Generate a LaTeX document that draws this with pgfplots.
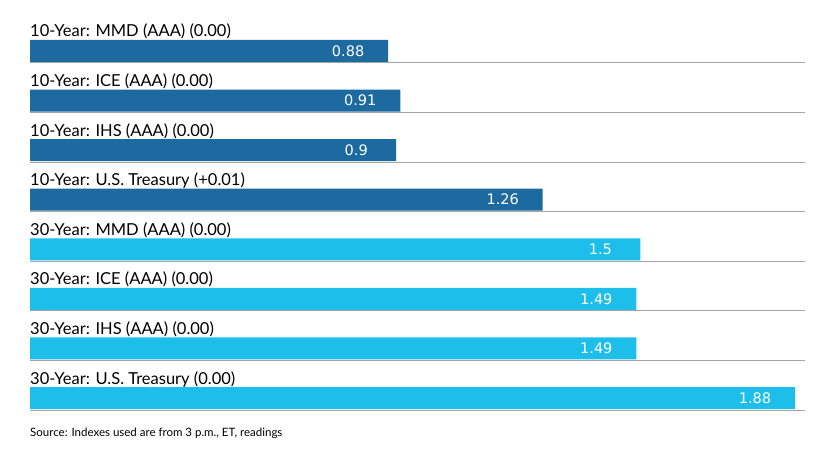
\documentclass[border=0pt]{standalone}
\usepackage{fontspec}
\setmainfont{Lato}
\newfontfamily\valfont{DejaVu Sans}
\usepackage{pgfplots}
\pgfplotsset{compat=1.18}
\definecolor{darkbar}{RGB}{28,106,160}
\definecolor{lightbar}{RGB}{30,190,234}
\definecolor{sepgray}{RGB}{165,165,165}

\tikzset{
    sep/.style={sepgray, line width=1pt},
    rowlab/.style={anchor=base west, inner sep=0pt, font=\fontsize{16.5}{19}\selectfont},
}

\begin{document}
\begin{tikzpicture}
\path[use as bounding box] (-30pt,-31.2pt) rectangle (810pt,422.8pt);
\begin{axis}[
    scale only axis,
    width=765pt, height=396.6pt,
    xmin=0, xmax=1.88,
    ymin=-0.5, ymax=7.5,
    y dir=reverse,
    axis lines=none,
    clip=false,
    xbar, bar width=22pt, bar shift=0pt,
    nodes near coords,
    nodes near coords style={anchor=center, xshift=-40pt, text=white,
        font=\valfont\fontsize{14.5}{16}\selectfont,
        /pgf/number format/assume math mode=true},
]
\addplot[draw=none, fill=darkbar] coordinates {
    (0.88,0) (0.91,1) (0.9,2) (1.26,3)
};
\addplot[draw=none, fill=lightbar] coordinates {
    (1.5,4) (1.49,5) (1.49,6) (1.88,7)
};

% separators under each bar
\pgfplotsinvokeforeach{0,...,7}{
    \draw[sep] ([yshift=-12pt]axis cs:0,#1) -- ([yshift=-12pt]axis cs:1.905,#1);
}

% row titles
\node[rowlab] at ([yshift=14pt]axis cs:0,0) {10-Year: MMD (AAA) (0.00)};
\node[rowlab] at ([yshift=14pt]axis cs:0,1) {10-Year: ICE (AAA) (0.00)};
\node[rowlab] at ([yshift=14pt]axis cs:0,2) {10-Year: IHS (AAA) (0.00)};
\node[rowlab] at ([yshift=14pt]axis cs:0,3) {10-Year: U.S. Treasury (+0.01)};
\node[rowlab] at ([yshift=14pt]axis cs:0,4) {30-Year: MMD (AAA) (0.00)};
\node[rowlab] at ([yshift=14pt]axis cs:0,5) {30-Year: ICE (AAA) (0.00)};
\node[rowlab] at ([yshift=14pt]axis cs:0,6) {30-Year: IHS (AAA) (0.00)};
\node[rowlab] at ([yshift=14pt]axis cs:0,7) {30-Year: U.S. Treasury (0.00)};
\end{axis}
\node[anchor=base west, inner sep=0pt, font=\fontsize{11.5}{13}\selectfont]
    at (0,-13.5pt) {Source: Indexes used are from 3 p.m., ET, readings};
\end{tikzpicture}
\end{document}
